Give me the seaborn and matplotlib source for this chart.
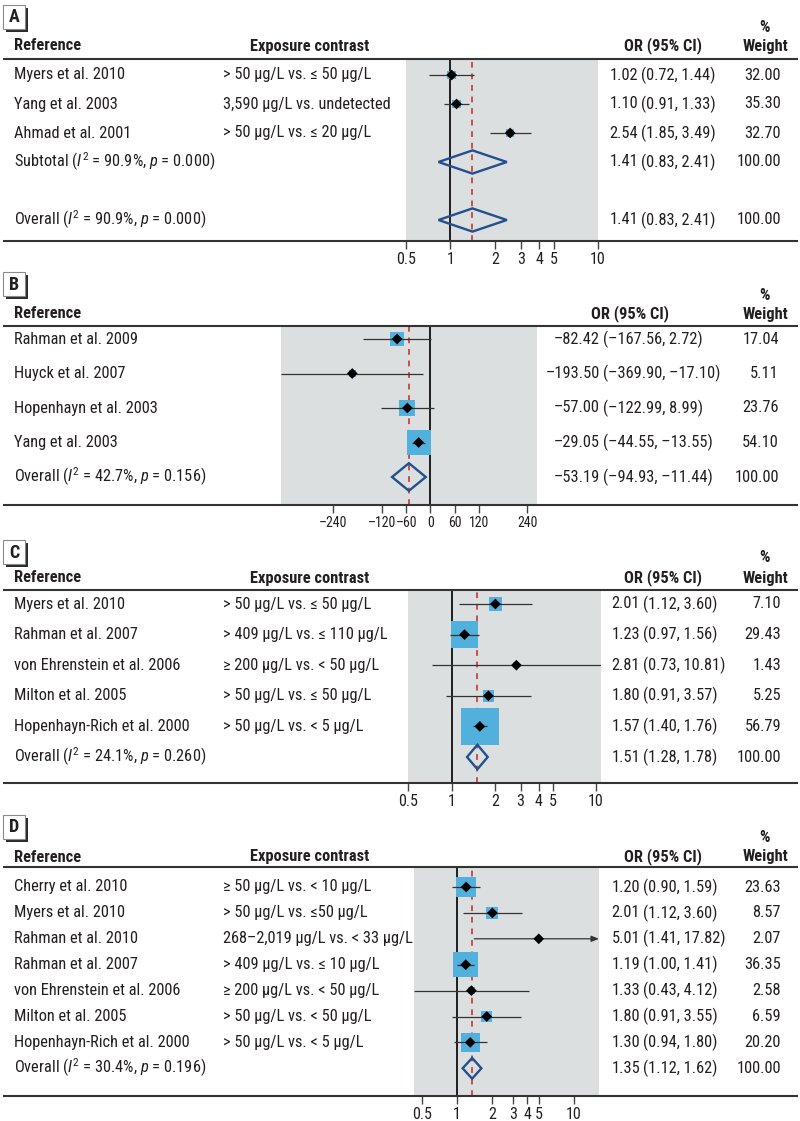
import matplotlib
matplotlib.use("Agg")
import numpy as np
import pandas as pd
import matplotlib.pyplot as plt
import seaborn as sns
from matplotlib.patches import Polygon, Rectangle
from matplotlib.ticker import NullLocator
from matplotlib import font_manager as fm

sns.set_style("white")
avail = {f.name for f in fm.fontManager.ttflist}
FONT = next((f for f in ["Liberation Sans Narrow", "Roboto Condensed", "Liberation Sans"] if f in avail), "DejaVu Sans")
plt.rcParams["font.family"] = [FONT, "DejaVu Sans"]
plt.rcParams.update({
    "mathtext.fontset": "custom",
    "mathtext.rm": FONT,
    "mathtext.it": FONT + ":italic",
    "mathtext.bf": FONT + ":bold",
})

# ---------------- DATA ----------------
# Panel A
a_refs = ["Myers et al. 2010", "Yang et al. 2003", "Ahmad et al. 2001"]
a_expo = ["> 50 µg/L vs. ≤ 50 µg/L", "3,590 µg/L vs. undetected", "> 50 µg/L vs. ≤ 20 µg/L"]
a_est = [1.02, 1.10, 2.54]
a_lo = [0.72, 0.91, 1.85]
a_hi = [1.44, 1.33, 3.49]
a_w = [32.00, 35.30, 32.70]
a_summary_labels = ["Subtotal", "Overall"]
a_summary_est = [1.41, 1.41]
a_summary_lo = [0.83, 0.83]
a_summary_hi = [2.41, 2.41]
a_summary_i2 = [90.9, 90.9]
a_summary_p = [0.000, 0.000]
a_ticks = [0.5, 1, 2, 3, 4, 5, 10]

# Panel B
b_refs = ["Rahman et al. 2009", "Huyck et al. 2007", "Hopenhayn et al. 2003", "Yang et al. 2003"]
b_est = [-82.42, -193.50, -57.00, -29.05]
b_lo = [-167.56, -369.90, -122.99, -44.55]
b_hi = [2.72, -17.10, 8.99, -13.55]
b_w = [17.04, 5.11, 23.76, 54.10]
b_summary_labels = ["Overall"]
b_summary_est = [-53.19]
b_summary_lo = [-94.93]
b_summary_hi = [-11.44]
b_summary_i2 = [42.7]
b_summary_p = [0.156]
b_ticks = [-240, -120, -60, 0, 60, 120, 240]

# Panel C
c_refs = ["Myers et al. 2010", "Rahman et al. 2007", "von Ehrenstein et al. 2006",
          "Milton et al. 2005", "Hopenhayn-Rich et al. 2000"]
c_expo = ["> 50 µg/L vs. ≤ 50 µg/L", "> 409 µg/L vs. ≤ 110 µg/L", "≥ 200 µg/L vs. < 50 µg/L",
          "> 50 µg/L vs. ≤ 50 µg/L", "> 50 µg/L vs. < 5 µg/L"]
c_est = [2.01, 1.23, 2.81, 1.80, 1.57]
c_lo = [1.12, 0.97, 0.73, 0.91, 1.40]
c_hi = [3.60, 1.56, 10.81, 3.57, 1.76]
c_w = [7.10, 29.43, 1.43, 5.25, 56.79]
c_summary_labels = ["Overall"]
c_summary_est = [1.51]
c_summary_lo = [1.28]
c_summary_hi = [1.78]
c_summary_i2 = [24.1]
c_summary_p = [0.260]
c_ticks = [0.5, 1, 2, 3, 4, 5, 10]

# Panel D
d_refs = ["Cherry et al. 2010", "Myers et al. 2010", "Rahman et al. 2010", "Rahman et al. 2007",
          "von Ehrenstein et al. 2006", "Milton et al. 2005", "Hopenhayn-Rich et al. 2000"]
d_expo = ["≥ 50 µg/L vs. < 10 µg/L", "> 50 µg/L vs. ≤50 µg/L", "268–2,019 µg/L vs. < 33 µg/L",
          "> 409 µg/L vs. ≤ 10 µg/L", "≥ 200 µg/L vs. < 50 µg/L", "> 50 µg/L vs. < 50 µg/L",
          "> 50 µg/L vs. < 5 µg/L"]
d_est = [1.20, 2.01, 5.01, 1.19, 1.33, 1.80, 1.30]
d_lo = [0.90, 1.12, 1.41, 1.00, 0.43, 0.91, 0.94]
d_hi = [1.59, 3.60, 17.82, 1.41, 4.12, 3.55, 1.80]
d_w = [23.63, 8.57, 2.07, 36.35, 2.58, 6.59, 20.20]
d_summary_labels = ["Overall"]
d_summary_est = [1.35]
d_summary_lo = [1.12]
d_summary_hi = [1.62]
d_summary_i2 = [30.4]
d_summary_p = [0.196]
d_ticks = [0.5, 1, 2, 3, 4, 5, 10]

# ---------------- STYLE / LAYOUT ----------------
W, H = 800, 1121
GRAY = "#dcdfe0"
BLUE = "#52b0dc"
DBLUE = "#22508f"
RED = "#c9433d"
TXT = "#231f20"
LINEC = "#333333"
CIC = "#333333"
FS = 11.8

panels = [
    dict(key="A", refs=a_refs, expo=a_expo, est=a_est, lo=a_lo, hi=a_hi, w=a_w,
         s_lab=a_summary_labels, s_est=a_summary_est, s_lo=a_summary_lo, s_hi=a_summary_hi,
         s_i2=a_summary_i2, s_p=a_summary_p, ticks=a_ticks, tick_fs=11.5,
         box_y=5, pct_y=28, head_y=46, line_y=59, row0=75, dy=29, s_off=[0, 2],
         gx=(406, 598), axis_y=241, xlim=(0.5, 10), log=True,
         paren_x=641, or_head_x=663, w_x=781, k=1.5),
    dict(key="B", refs=b_refs, expo=None, est=b_est, lo=b_lo, hi=b_hi, w=b_w,
         s_lab=b_summary_labels, s_est=b_summary_est, s_lo=b_summary_lo, s_hi=b_summary_hi,
         s_i2=b_summary_i2, s_p=b_summary_p, ticks=b_ticks, tick_fs=10,
         box_y=272, pct_y=295, head_y=314, line_y=326, row0=339, dy=34.5, s_off=[0],
         gx=(281, 537), axis_y=505, xlim=(-369.9, 264), log=False,
         paren_x=603, or_head_x=630, w_x=779, k=3.3),
    dict(key="C", refs=c_refs, expo=c_expo, est=c_est, lo=c_lo, hi=c_hi, w=c_w,
         s_lab=c_summary_labels, s_est=c_summary_est, s_lo=c_summary_lo, s_hi=c_summary_hi,
         s_i2=c_summary_i2, s_p=c_summary_p, ticks=c_ticks, tick_fs=11.5,
         box_y=540, pct_y=558, head_y=578, line_y=590, row0=604, dy=30.6, s_off=[0],
         gx=(408, 601), axis_y=783, xlim=(0.5, 10.81), log=True,
         paren_x=643, or_head_x=663, w_x=781, k=5.0),
    dict(key="D", refs=d_refs, expo=d_expo, est=d_est, lo=d_lo, hi=d_hi, w=d_w,
         s_lab=d_summary_labels, s_est=d_summary_est, s_lo=d_summary_lo, s_hi=d_summary_hi,
         s_i2=d_summary_i2, s_p=d_summary_p, ticks=d_ticks, tick_fs=11.5,
         box_y=815, pct_y=837, head_y=857, line_y=867, row0=887, dy=25.9, s_off=[0],
         gx=(414, 599), axis_y=1096, xlim=(0.43, 16.4), log=True,
         paren_x=643, or_head_x=663, w_x=781, k=4.2),
]


def fmt(v, nd=2):
    return f"{v:.{nd}f}".replace("-", "\u2013")


fig = plt.figure(figsize=(W / 100, H / 100), dpi=100)
fig.patch.set_facecolor("white")
texts = []
hlines = []
boxes = []

for P in panels:
    n = len(P["refs"])
    y0, dy = P["row0"], P["dy"]
    ypx = (lambda r, y0=y0, dy=dy: y0 + dy * r)
    gx0, gx1 = P["gx"]
    top, bot = P["line_y"], P["axis_y"]
    ax = fig.add_axes([gx0 / W, 1 - bot / H, (gx1 - gx0) / W, (bot - top) / H])
    ax.set_facecolor(GRAY)
    if P["log"]:
        ax.set_xscale("log")
    null = 1 if P["log"] else 0
    ax.axvline(null, color="#1e1e1e", lw=1.4, zorder=1)
    ax.axvline(P["s_est"][-1], color=RED, lw=1.3, ls=(0, (3.2, 3.2)), zorder=1.5)

    df = pd.DataFrame({"est": P["est"], "row": np.arange(n), "w": P["w"]})
    smax = (0.72 * P["k"]) ** 2 * 100
    sns.scatterplot(data=df, x="est", y="row", size="w", sizes=(0, smax), size_norm=(0, 100),
                    marker="s", color=BLUE, edgecolor="none", linewidth=0, legend=False,
                    ax=ax, zorder=2)
    xmin, xmax = P["xlim"]
    for r, (lo, hi) in enumerate(zip(P["lo"], P["hi"])):
        if hi > xmax:
            ax.annotate("", xy=(xmax, r), xytext=(max(lo, xmin), r),
                        arrowprops=dict(arrowstyle="-|>,head_length=0.45,head_width=0.18",
                                        color=CIC, lw=0.9, shrinkA=0, shrinkB=0), zorder=3)
        else:
            ax.hlines(r, max(lo, xmin), hi, color=CIC, lw=0.9, zorder=3)
    sns.scatterplot(data=df, x="est", y="row", marker="D", color="black", s=30,
                    edgecolor="none", legend=False, ax=ax, zorder=4)
    for off, e, lo, hi in zip(P["s_off"], P["s_est"], P["s_lo"], P["s_hi"]):
        r = n + off
        ax.add_patch(Polygon([(lo, r), (e, r - 0.4), (hi, r), (e, r + 0.4)], closed=True,
                             fill=False, ec=DBLUE, lw=1.7, zorder=5, joinstyle="miter"))

    ax.set_xlim(xmin, xmax)
    ax.set_ylim((bot - y0) / dy, (top - y0) / dy)
    ax.set_xlabel("")
    ax.set_ylabel("")
    for s in ax.spines.values():
        s.set_visible(False)
    ax.set_yticks([])
    ax.set_xticks(P["ticks"])
    ax.set_xticklabels([fmt(t, 0) if isinstance(t, int) else f"{t:g}" for t in P["ticks"]])
    ax.xaxis.set_minor_locator(NullLocator())
    ax.tick_params(axis="x", bottom=True, direction="out", length=5.5, width=1.0,
                   color="#444444", pad=2.5, labelsize=P["tick_fs"], labelcolor=TXT)

    bold = dict(fontsize=FS, fontweight="bold", color=TXT, va="center")
    reg = dict(fontsize=FS, color=TXT, va="center")
    texts.append((14, P["head_y"], "Reference", dict(bold, ha="left")))
    if P["expo"] is not None:
        texts.append((250, P["head_y"], "Exposure contrast", dict(bold, ha="left")))
    texts.append((P["or_head_x"], P["head_y"], "OR (95% CI)", dict(bold, ha="center")))
    texts.append((764, P["pct_y"], "%", dict(bold, ha="center")))
    texts.append((788, P["head_y"], "Weight", dict(bold, ha="right")))
    for r in range(n):
        y = ypx(r)
        texts.append((14, y, P["refs"][r], dict(reg, ha="left")))
        if P["expo"] is not None:
            texts.append((223, y, P["expo"][r], dict(reg, ha="left")))
        texts.append((P["paren_x"] - 3, y, fmt(P["est"][r]), dict(reg, ha="right")))
        texts.append((P["paren_x"], y, f"({fmt(P['lo'][r])}, {fmt(P['hi'][r])})", dict(reg, ha="left")))
        texts.append((P["w_x"], y, fmt(P["w"][r]), dict(reg, ha="right")))
    for lab, off, e, lo, hi, i2, p in zip(P["s_lab"], P["s_off"], P["s_est"], P["s_lo"],
                                          P["s_hi"], P["s_i2"], P["s_p"]):
        y = ypx(n + off)
        texts.append((14, y, f"{lab} ($I^2$ = {i2:.1f}%, $p$ = {p:.3f})", dict(reg, ha="left")))
        texts.append((P["paren_x"] - 3, y, fmt(e), dict(reg, ha="right")))
        texts.append((P["paren_x"], y, f"({fmt(lo)}, {fmt(hi)})", dict(reg, ha="left")))
        texts.append((P["w_x"], y, fmt(100.0), dict(reg, ha="right")))
    hlines.append(P["line_y"])
    hlines.append(P["axis_y"])
    boxes.append((3, P["box_y"], P["key"]))

ov = fig.add_axes([0, 0, 1, 1])
ov.set_xlim(0, W)
ov.set_ylim(H, 0)
ov.axis("off")
ov.patch.set_alpha(0)
for y in hlines:
    ov.hlines(y, 3, 798, color=LINEC, lw=1.5)
for x, y, s, kw in texts:
    ov.text(x, y, s, **kw)
for bx, by, key in boxes:
    ov.add_patch(Rectangle((bx + 2.5, by + 2.5), 22, 24, fc="#2b2b2b", ec="none"))
    ov.add_patch(Rectangle((bx, by), 22, 24, fc="white", ec="#8a8a8a", lw=0.8))
    ov.text(bx + 11, by + 12.5, key, ha="center", va="center", fontsize=13,
            fontweight="bold", color=TXT)

fig.savefig("out.png", dpi=100)
